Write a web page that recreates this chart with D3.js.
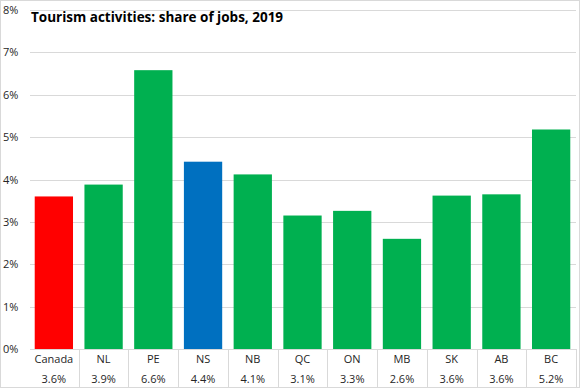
<!DOCTYPE html>
<html>
<head>
<meta charset="utf-8">
<script src="https://cdn.jsdelivr.net/npm/d3@7"></script>
<style>
  body { margin: 0; background: #fff; }
  text { font-family: "Open Sans", "Liberation Sans", sans-serif; }
</style>
</head>
<body>
<div id="viz"></div>
<script>
// Data
const regions = ["Canada", "NL", "PE", "NS", "NB", "QC", "ON", "MB", "SK", "AB", "BC"];
const shares = [3.6, 3.88, 6.58, 4.42, 4.12, 3.15, 3.26, 2.6, 3.62, 3.65, 5.18];
const shareLabels = ["3.6%", "3.9%", "6.6%", "4.4%", "4.1%", "3.1%", "3.3%", "2.6%", "3.6%", "3.6%", "5.2%"];
const yTicks = [0, 1, 2, 3, 4, 5, 6, 7, 8];

const width = 581;
const height = 389;
const margin = { top: 10, right: 5, bottom: 40, left: 29 };

const svg = d3.select("#viz")
    .append("svg")
    .attr("width", width)
    .attr("height", height);

// Chart border
svg.append("rect")
    .attr("x", 0.5).attr("y", 0.5)
    .attr("width", width - 2).attr("height", height - 2)
    .attr("fill", "#fff")
    .attr("stroke", "#d9d9d9");

const x = d3.scaleBand()
    .domain(regions)
    .range([margin.left, width - margin.right])
    .paddingInner(0.23)
    .paddingOuter(0.115);

const y = d3.scaleLinear()
    .domain([0, 8])
    .range([height - margin.bottom, margin.top]);

// Gridlines
svg.append("g")
    .selectAll("line")
    .data(yTicks)
    .enter().append("line")
    .attr("x1", margin.left + 1)
    .attr("x2", width - margin.right)
    .attr("y1", d => Math.round(y(d)) + 0.5)
    .attr("y2", d => Math.round(y(d)) + 0.5)
    .attr("stroke", "#d9d9d9");

// Y tick labels, centred on their gridlines
svg.append("g")
    .selectAll("text")
    .data(yTicks)
    .enter().append("text")
    .attr("x", 3)
    .attr("y", d => y(d) + 4)
    .attr("font-size", 11)
    .attr("fill", "#262626")
    .text(d => d + "%");

// Bars
const colorFor = d => d === "Canada" ? "#ff0000" : d === "NS" ? "#0070c0" : "#00b050";
svg.append("g")
    .selectAll("rect")
    .data(regions)
    .enter().append("rect")
    .attr("x", d => x(d))
    .attr("width", x.bandwidth())
    .attr("y", (d, i) => y(shares[i]))
    .attr("height", (d, i) => y(0) - y(shares[i]))
    .attr("fill", colorFor);

// Data table below axis
const step = x.step();
const start = x.range()[0];
const table = svg.append("g");
table.selectAll("line")
    .data(regions)
    .enter().append("line")
    .attr("x1", (d, i) => Math.round(start + step * (i + 1)) + 0.5)
    .attr("x2", (d, i) => Math.round(start + step * (i + 1)) + 0.5)
    .attr("y1", y(0))
    .attr("y2", height - 1)
    .attr("stroke", "#d9d9d9");

table.selectAll(".cat")
    .data(regions)
    .enter().append("text")
    .attr("class", "cat")
    .attr("x", (d, i) => start + step * (i + 0.5))
    .attr("y", y(0) + 14)
    .attr("text-anchor", "middle")
    .attr("font-size", 11)
    .attr("fill", "#262626")
    .text(d => d);

table.selectAll(".val")
    .data(shareLabels)
    .enter().append("text")
    .attr("class", "val")
    .attr("x", (d, i) => start + step * (i + 0.5))
    .attr("y", y(0) + 34)
    .attr("text-anchor", "middle")
    .attr("font-size", 11)
    .attr("fill", "#262626")
    .text(d => d);

// Title
svg.append("text")
    .attr("x", 31)
    .attr("y", 22)
    .attr("font-size", 13.5)
    .attr("font-weight", "bold")
    .attr("fill", "#000")
    .text("Tourism activities: share of jobs, 2019");
</script>
</body>
</html>
